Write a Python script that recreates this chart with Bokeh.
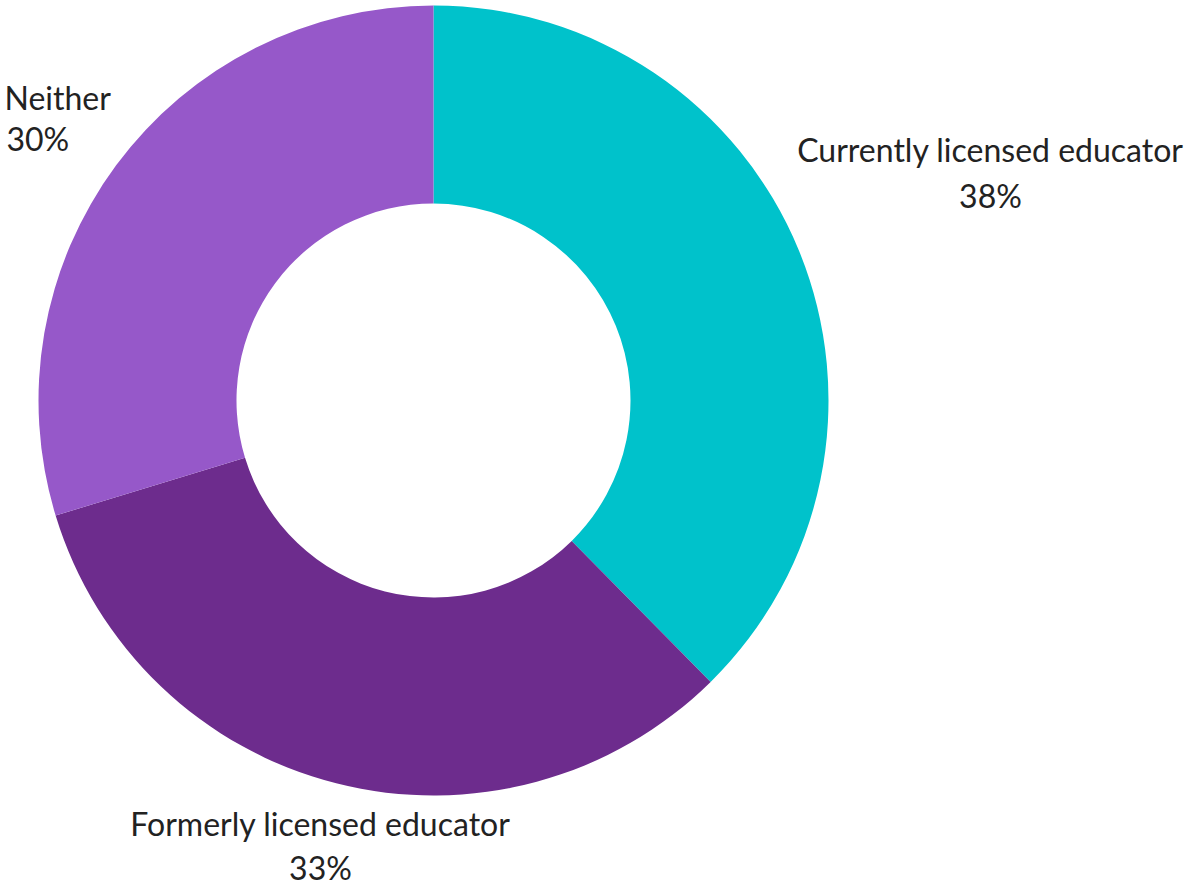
import math
from bokeh.plotting import figure
from bokeh.models import Range1d, ColumnDataSource
from bokeh.core.properties import value
from bokeh.embed import file_html
from bokeh.resources import INLINE

categories = ["Currently licensed educator", "Formerly licensed educator", "Neither"]
percents = [38, 33, 30]
colors = ["#00C2CB", "#6D2C8D", "#9658C9"]

W, H = 1187, 888
p = figure(width=W, height=H, output_backend="svg", toolbar_location=None,
           x_range=Range1d(0, W), y_range=Range1d(0, H),
           min_border=0)
p.axis.visible = False
p.grid.visible = False
p.outline_line_color = None
p.background_fill_color = "white"
p.border_fill_color = "white"

total = sum(percents)
starts, ends = [], []
a = math.pi / 2
for v in percents:
    starts.append(a)
    a -= v / total * 2 * math.pi
    ends.append(a)

cx, cy = 433, H - 400
src = ColumnDataSource(dict(cat=categories, start=starts, end=ends, color=colors))
p.annular_wedge(x=cx, y=cy, inner_radius=197, outer_radius=395,
                start_angle="start", end_angle="end", direction="clock",
                fill_color="color", line_color=None, source=src)

labels = [f"{c}" for c in categories]
pcts = [f"{v}%" for v in percents]
font = value("Lato")
tc = "#222222"
fs = "32px"
# Currently
p.text(x=[990, 990], y=[H - 149, H - 195], text=[labels[0], pcts[0]],
       text_align="center", text_baseline="alphabetic", text_font=font,
       text_font_size=fs, text_color=tc)
# Formerly
p.text(x=[320, 320], y=[H - 823, H - 867], text=[labels[1], pcts[1]],
       text_align="center", text_baseline="alphabetic", text_font=font,
       text_font_size=fs, text_color=tc)
# Neither
p.text(x=[4, 6], y=[H - 97, H - 138], text=[labels[2], pcts[2]],
       text_align="left", text_baseline="alphabetic", text_font=font,
       text_font_size=fs, text_color=tc)

open("out.html", "w").write(file_html(p, INLINE))
